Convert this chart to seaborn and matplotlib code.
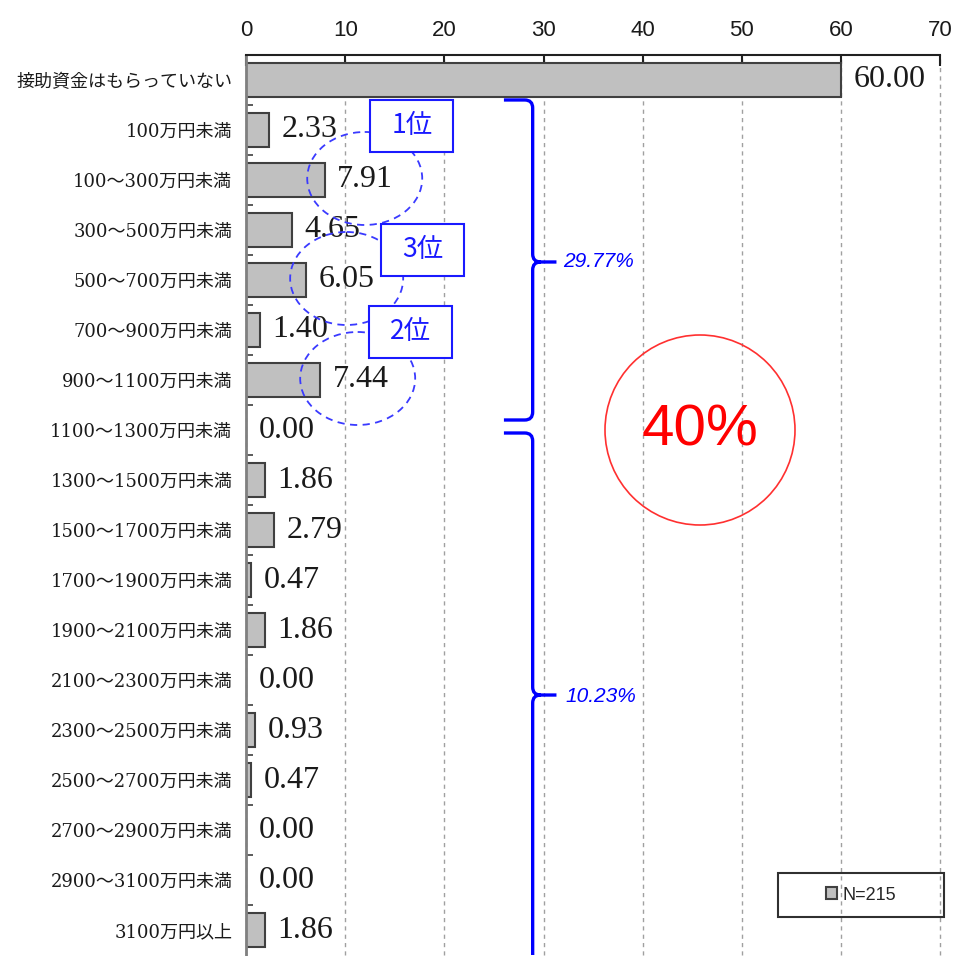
import matplotlib
matplotlib.use("Agg")
import matplotlib.pyplot as plt
import pandas as pd
import seaborn as sns
from matplotlib.patches import Ellipse, Rectangle, Circle, PathPatch
from matplotlib.path import Path

CATEGORIES = [
    "接助資金はもらっていない",
    "100万円未満",
    "100～300万円未満",
    "300～500万円未満",
    "500～700万円未満",
    "700～900万円未満",
    "900～1100万円未満",
    "1100～1300万円未満",
    "1300～1500万円未満",
    "1500～1700万円未満",
    "1700～1900万円未満",
    "1900～2100万円未満",
    "2100～2300万円未満",
    "2300～2500万円未満",
    "2500～2700万円未満",
    "2700～2900万円未満",
    "2900～3100万円未満",
    "3100万円以上",
]
VALUES = [60.00, 2.33, 7.91, 4.65, 6.05, 1.40, 7.44, 0.00, 1.86, 2.79,
          0.47, 1.86, 0.00, 0.93, 0.47, 0.00, 0.00, 1.86]
LEGEND_LABEL = "N=215"
XTICKS = [0, 10, 20, 30, 40, 50, 60, 70]

RANK_LABELS = ["1位", "3位", "2位"]
RANK_ROWS = [2, 4, 6]            # rows circled for each rank
GROUP_SHARES = ["29.77%", "10.23%"]
BIG_SHARE = "40%"

BLUE = "#1a1aff"
SERIF = ["DejaVu Serif", "Noto Sans CJK JP"]
SANS_CJK = ["Noto Sans CJK JP", "DejaVu Sans"]

df = pd.DataFrame({"category": CATEGORIES, "value": VALUES})

sns.set_style("white")
plt.rcParams["font.family"] = SANS_CJK

fig = plt.figure(figsize=(9.54, 9.56), dpi=100)
ax = fig.add_axes([0.258, 0.001, 0.7275, 0.9415])

sns.barplot(data=df, x="value", y="category", orient="h", ax=ax,
            color="#c0c0c0", saturation=1, edgecolor="#404040",
            linewidth=1.5, width=0.68, label=LEGEND_LABEL)

ax.set_xlim(0, 70)
ax.set_ylim(len(CATEGORIES) - 0.5, -0.5)
ax.set_xlabel("")
ax.set_ylabel("")

# x axis on top, inward ticks
ax.xaxis.tick_top()
ax.set_xticks(XTICKS)
ax.set_xticklabels([str(t) for t in XTICKS], family="Liberation Sans",
                   fontsize=16, color="#1a1a1a")
ax.tick_params(axis="x", direction="in", length=8, width=1.5,
               color="#202020", pad=10)

# y axis: labels, small inward marks between rows
ax.set_yticks(range(len(CATEGORIES)))
ax.set_yticklabels(CATEGORIES, family=SERIF, fontsize=13, color="#1a1a1a")
ax.set_yticks([i + 0.5 for i in range(len(CATEGORIES) - 1)], minor=True)
ax.tick_params(axis="y", which="major", length=0, pad=10)
ax.tick_params(axis="y", which="minor", direction="in", length=5,
               width=1.2, color="#404040", left=True)

for side in ["right", "bottom"]:
    ax.spines[side].set_visible(False)
ax.spines["top"].set_color("#202020")
ax.spines["top"].set_linewidth(1.5)
ax.spines["left"].set_color("#808080")
ax.spines["left"].set_linewidth(2)

ax.grid(axis="x", linestyle=(0, (3, 3)), color="#a0a0a0", linewidth=1)
ax.grid(axis="y", visible=False)
ax.set_axisbelow(True)
for gl in ax.get_xgridlines():
    gl.set_clip_on(False)

# value labels
ax.bar_label(ax.containers[0], labels=[f"{v:.2f}" for v in VALUES],
             padding=9, fontsize=23, family="Liberation Serif",
             color="#1a1a1a")

# dashed circles around the top three rows, with rank boxes
ell_x = [11.96, 10.14, 11.25]
ell_w = [11.6, 11.4, 11.6]
for row, xc, w in zip(RANK_ROWS, ell_x, ell_w):
    ax.add_patch(Ellipse((xc, row - 0.03), w, 1.86, fill=False,
                         edgecolor="#3a3aff", linewidth=1.3,
                         linestyle=(0, (4, 3)), zorder=4))

box_pos = [(12.5, 0.40), (13.6, 2.88), (12.4, 4.52)]
for label, (bx, by) in zip(RANK_LABELS, box_pos):
    ax.add_patch(Rectangle((bx, by), 8.4, 1.04, facecolor="white",
                           edgecolor=BLUE, linewidth=1.5, zorder=5))
    ax.text(bx + 4.2, by + 0.52, label, ha="center", va="center",
            fontsize=19, color=BLUE, family=SANS_CJK, zorder=6)


# curly braces for the group shares
def brace(x0, xs, xt, ytop, ymid, ybot, rx=0.8, ry=0.16):
    verts = [
        (x0, ytop), (xs - rx, ytop), (xs, ytop), (xs, ytop + ry),
        (xs, ymid - ry), (xs, ymid), (xs + rx, ymid), (xt, ymid),
        (xs + rx, ymid), (xs, ymid), (xs, ymid + ry),
        (xs, ybot - ry), (xs, ybot), (xs - rx, ybot), (x0, ybot),
    ]
    codes = [
        Path.MOVETO, Path.LINETO, Path.CURVE3, Path.CURVE3,
        Path.LINETO, Path.CURVE3, Path.CURVE3, Path.LINETO,
        Path.MOVETO, Path.CURVE3, Path.CURVE3,
        Path.LINETO, Path.CURVE3, Path.CURVE3, Path.LINETO,
    ]
    return PathPatch(Path(verts, codes), fill=False, edgecolor="#0000ff",
                     linewidth=2.4, zorder=4, capstyle="butt")


ax.add_patch(brace(26.0, 28.9, 31.3, 0.40, 3.64, 6.80))
ax.add_patch(brace(26.0, 28.9, 31.3, 7.06, 12.30, 18.5))
ax.text(32.0, 3.64, GROUP_SHARES[0], ha="left", va="center", fontsize=15,
        style="italic", color="#0000ff", family="Liberation Sans")
ax.text(32.2, 12.32, GROUP_SHARES[1], ha="left", va="center", fontsize=15,
        style="italic", color="#0000ff", family="Liberation Sans")

# big red circle
fig.patches.append(Circle((7.00, 5.26), 0.95, transform=fig.dpi_scale_trans,
                          fill=False, edgecolor="#ff3030", linewidth=1.2))
fig.text(7.00, 5.26, BIG_SHARE, transform=fig.dpi_scale_trans,
         ha="center", va="center", fontsize=42, color="#ff0000",
         family="Liberation Sans")

# legend in a wide box at lower right
ax.legend(loc="center", bbox_to_anchor=(0.886, 0.0667), frameon=False,
          handlelength=0.6, handleheight=0.6, handletextpad=0.3,
          prop={"family": "Liberation Sans", "size": 13})
ax.add_patch(Rectangle((0.767, 0.042), 0.239, 0.049, transform=ax.transAxes,
                       fill=False, edgecolor="#303030", linewidth=1.5,
                       clip_on=False, zorder=5))

fig.savefig("out.png", dpi=100, facecolor="white")
